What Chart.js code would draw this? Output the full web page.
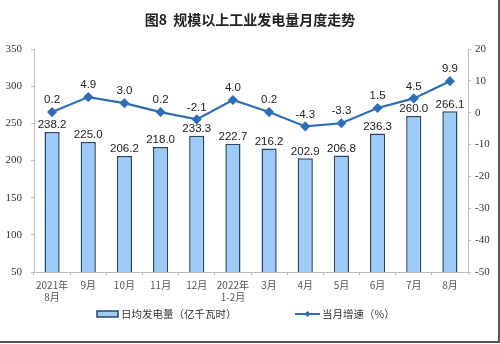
<!DOCTYPE html>
<html>
<head>
<meta charset="utf-8">
<script src="https://cdn.jsdelivr.net/npm/chart.js@4/dist/chart.umd.min.js"></script>
<style>
  html, body { margin: 0; padding: 0; background: #fff; }
  #wrap { position: relative; width: 500px; height: 344px; }
</style>
</head>
<body>
<div id="wrap"><canvas id="c" width="500" height="344"></canvas></div>
<script>
// Monthly categories
const months = [['2021年', '8月'], '9月', '10月', '11月', '12月', ['2022年', '1-2月'], '3月', '4月', '5月', '6月', '7月', '8月'];
// Average daily generation (100 million kWh)
const dailyOutput = [238.2, 225.0, 206.2, 218.0, 233.3, 222.7, 216.2, 202.9, 206.8, 236.3, 260.0, 266.1];
// Year-on-year growth of the month (%)
const growthRate = [0.2, 4.9, 3.0, 0.2, -2.1, 4.0, 0.2, -4.3, -3.3, 1.5, 4.5, 9.9];
// Axis tick values
const leftTicks = [50, 100, 150, 200, 250, 300, 350];
const rightTicks = [-50, -40, -30, -20, -10, 0, 10, 20];

const titleText = '图8  规模以上工业发电量月度走势';
const barLabel = '日均发电量（亿千瓦时）';
const lineLabel = '当月增速（%）';

const BAR_FILL = '#9DCBF8';
const BAR_EDGE = '#2B4660';
const LINE_COLOR = '#2F6EB5';
const CJK = '"Noto Sans CJK SC", "Noto Sans", sans-serif';
const NUM = '"Liberation Sans", Arial, sans-serif';

// Title, value labels, legend and frame
const decorations = {
  id: 'decorations',
  afterDatasetsDraw(chart) {
    const ctx = chart.ctx;
    ctx.save();
    // value labels on bars
    ctx.fillStyle = '#222';
    ctx.font = '11.5px ' + NUM;
    ctx.textAlign = 'center';
    ctx.textBaseline = 'middle';
    chart.getDatasetMeta(0).data.forEach((el, i) => {
      ctx.fillText(dailyOutput[i].toFixed(1), el.x, el.y - 7);
    });
    // value labels on line points
    chart.getDatasetMeta(1).data.forEach((el, i) => {
      ctx.fillText(growthRate[i].toFixed(1), el.x, el.y - 12);
    });
    ctx.restore();
  },
  afterDraw(chart) {
    const ctx = chart.ctx;
    ctx.save();
    // title
    ctx.fillStyle = '#222';
    ctx.font = 'bold 14px ' + CJK;
    ctx.textAlign = 'center';
    ctx.textBaseline = 'middle';
    ctx.fillText(titleText, 250, 20);

    // legend: bar item
    const ly = 314;
    ctx.fillStyle = BAR_FILL;
    ctx.strokeStyle = BAR_EDGE;
    ctx.lineWidth = 1.5;
    ctx.fillRect(97, ly - 3, 21, 6);
    ctx.strokeRect(97, ly - 3, 21, 6);
    ctx.fillStyle = '#333';
    ctx.font = '10.5px ' + CJK;
    ctx.textAlign = 'left';
    ctx.fillText(barLabel, 121, ly);

    // legend: line item
    ctx.strokeStyle = LINE_COLOR;
    ctx.lineWidth = 2;
    ctx.beginPath();
    ctx.moveTo(295, ly);
    ctx.lineTo(320, ly);
    ctx.stroke();
    ctx.fillStyle = LINE_COLOR;
    ctx.beginPath();
    ctx.moveTo(307.5, ly - 3);
    ctx.lineTo(310.5, ly);
    ctx.lineTo(307.5, ly + 3);
    ctx.lineTo(304.5, ly);
    ctx.closePath();
    ctx.fill();
    ctx.fillStyle = '#333';
    ctx.fillText(lineLabel, 322, ly);

    // frame edges
    ctx.strokeStyle = '#555';
    ctx.lineWidth = 2;
    ctx.beginPath();
    ctx.moveTo(0, 342);
    ctx.lineTo(499, 342);
    ctx.lineTo(499, 0);
    ctx.stroke();
    ctx.restore();
  }
};

new Chart(document.getElementById('c'), {
  data: {
    labels: months,
    datasets: [
      {
        type: 'bar',
        label: barLabel,
        data: dailyOutput,
        yAxisID: 'y',
        backgroundColor: BAR_FILL,
        borderColor: BAR_EDGE,
        borderWidth: 1.5,
        barPercentage: 0.42,
        categoryPercentage: 1.0,
        order: 2
      },
      {
        type: 'line',
        label: lineLabel,
        data: growthRate,
        yAxisID: 'y1',
        borderColor: LINE_COLOR,
        backgroundColor: LINE_COLOR,
        borderWidth: 2.2,
        pointStyle: 'rectRot',
        pointRadius: 3.5,
        pointBackgroundColor: LINE_COLOR,
        pointBorderColor: LINE_COLOR,
        tension: 0,
        order: 1
      }
    ]
  },
  options: {
    responsive: false,
    animation: false,
    devicePixelRatio: 1,
    layout: { padding: { top: 49, left: 0, right: 0, bottom: 0 } },
    plugins: {
      legend: { display: false },
      title: { display: false },
      tooltip: { enabled: false }
    },
    scales: {
      x: {
        offset: true,
        grid: { display: true, drawOnChartArea: false, offset: true, tickLength: 3, color: '#bbb' },
        border: { display: true, color: '#bbb', width: 1 },
        ticks: {
          color: '#555',
          font: { family: CJK, size: 10 },
          padding: 4,
          maxRotation: 0,
          autoSkip: false
        },
        afterFit(scale) { scale.height = 72; }
      },
      y: {
        position: 'left',
        min: 50,
        max: 350,
        afterBuildTicks(scale) { scale.ticks = leftTicks.map(v => ({ value: v })); },
        grid: { display: true, drawOnChartArea: false, tickLength: 3, color: '#bbb' },
        border: { display: true, color: '#bbb', width: 1 },
        ticks: {
          color: '#333',
          font: { family: '"Liberation Serif", "Times New Roman", serif', size: 11 },
          padding: 9
        },
        afterFit(scale) { scale.width = 34; }
      },
      y1: {
        position: 'right',
        min: -50,
        max: 20,
        afterBuildTicks(scale) { scale.ticks = rightTicks.map(v => ({ value: v })); },
        grid: { display: true, drawOnChartArea: false, tickLength: 3, color: '#bbb' },
        border: { display: true, color: '#bbb', width: 1 },
        ticks: {
          color: '#333',
          font: { family: '"Liberation Serif", "Times New Roman", serif', size: 11 },
          padding: 4
        },
        afterFit(scale) { scale.width = 32; }
      }
    }
  },
  plugins: [decorations]
});
</script>
</body>
</html>
